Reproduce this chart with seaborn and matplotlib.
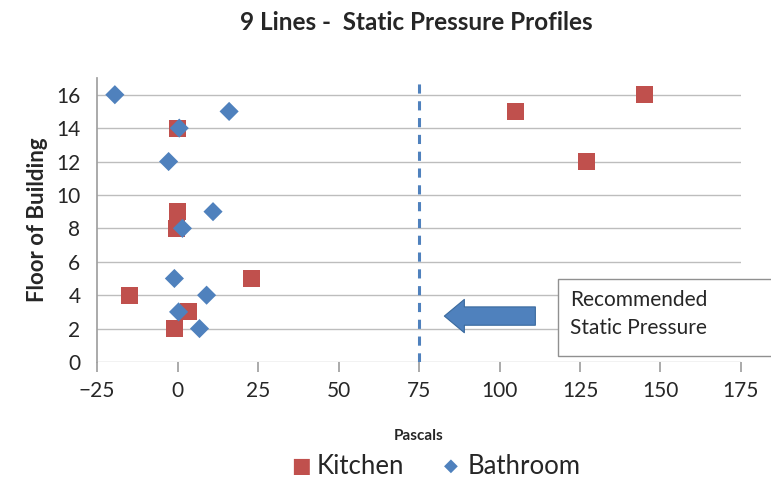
import matplotlib.pyplot as plt
from matplotlib.patches import Rectangle
import seaborn as sns
import pandas as pd

kitchen_x = [145, 105, 127, 0, 0, -0.5, 23, -15, 3.5, -1]
kitchen_y = [16, 15, 12, 14, 9, 8, 5, 4, 3, 2]
bathroom_x = [-19.5, 16, 0.5, -2.8, 11, 1.5, -1, 9, 0.3, 6.8]
bathroom_y = [16, 15, 14, 12, 9, 8, 5, 4, 3, 2]
recommended = 75

df = pd.DataFrame({
    "Pascals": kitchen_x + bathroom_x,
    "Floor": kitchen_y + bathroom_y,
    "Series": ["Kitchen"] * len(kitchen_x) + ["Bathroom"] * len(bathroom_x),
})

sns.set_theme(style="white")
plt.rcParams['font.family'] = ['Lato', 'DejaVu Sans']

fig = plt.figure(figsize=(7.71, 4.83), dpi=100)
ax = fig.add_axes([0.126, 0.2505, 0.835, 0.588])

sns.scatterplot(data=df, x="Pascals", y="Floor", hue="Series", style="Series",
                size="Series", sizes={"Kitchen": 150, "Bathroom": 95},
                palette={"Kitchen": "#C0504D", "Bathroom": "#4F81BD"},
                markers={"Kitchen": "s", "Bathroom": "D"},
                linewidth=0, ax=ax, zorder=3, legend=False)

ax.axvline(recommended, color="#4F81BD", linestyle=(0, (3, 2.5)), lw=2.2, zorder=2)

ax.set_xlim(-25, 175)
ax.set_ylim(0, 17)
ax.set_xticks(range(-25, 176, 25))
ax.set_yticks(range(0, 17, 2))
ax.yaxis.grid(True, color="#BDBDBD", lw=1)
ax.set_axisbelow(True)
for s in ["top", "right", "bottom"]:
    ax.spines[s].set_visible(False)
ax.spines["left"].set_color("#A0A0A0")
ax.tick_params(axis="x", bottom=True, length=7, color="#A0A0A0", labelsize=15, pad=7)
ax.tick_params(axis="y", left=False, labelsize=15, pad=6)
ax.set_xlabel("Pascals", fontsize=11, fontweight="bold", labelpad=20)
ax.set_ylabel("Floor of Building", fontsize=16, fontweight="bold", labelpad=6)

fig.suptitle("9 Lines -  Static Pressure Profiles", fontsize=17.5, fontweight="bold",
             x=0.54, y=0.978)

# annotation arrow and box
ax.annotate("", xy=(82, 2.75), xytext=(112, 2.75),
            arrowprops=dict(arrowstyle="simple,head_width=2.0,head_length=1.2,tail_width=1.1",
                            fc="#4F81BD", ec="#3A6A9E", lw=0.8))
fig.patches.append(Rectangle((558 / 771, 1 - 356 / 483), 0.3, 77 / 483,
                             transform=fig.transFigure, fc="white", ec="#909090", lw=1))
fig.text(570 / 771, 1 - 300 / 483, "Recommended", fontsize=15, va="center")
fig.text(570 / 771, 1 - 328 / 483, "Static Pressure", fontsize=15, va="center")

# legend
fig.text(0.378, 1 - 466 / 483, "\u25A0", color="#C0504D", fontsize=15, va="center",
         family=["DejaVu Sans"])
fig.text(0.411, 1 - 466 / 483, "Kitchen", fontsize=18.5, va="center")
fig.text(0.576, 1 - 466 / 483, "\u25C6", color="#4F81BD", fontsize=13, va="center",
         family=["DejaVu Sans"])
fig.text(0.607, 1 - 466 / 483, "Bathroom", fontsize=18.5, va="center")

fig.savefig("out.png", dpi=100)
